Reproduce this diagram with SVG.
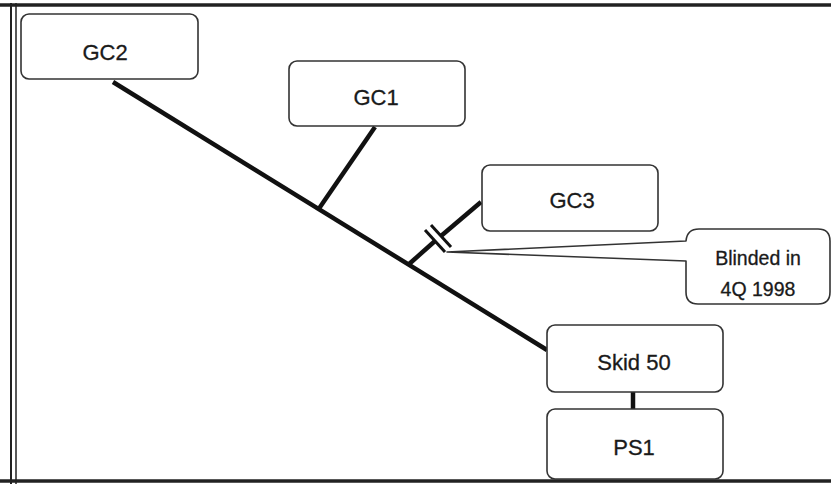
<svg xmlns="http://www.w3.org/2000/svg" width="831" height="485" viewBox="0 0 831 485">
<style>
.box{fill:#fff;stroke:#333;stroke-width:1.6}
.pipe{stroke:#111;stroke-width:4.5;fill:none;stroke-linecap:butt}
.lbl{font-family:"Liberation Sans",Arial,sans-serif;font-size:22px;fill:#1a1a1a;text-anchor:middle;stroke:#1a1a1a;stroke-width:0.3}
.small{font-size:19.5px}
.frame{stroke:#222;fill:none}
</style>
<rect width="831" height="485" fill="#fff"/>
<g id="frame">
<line class="frame" x1="0" y1="5" x2="831" y2="5" stroke-width="3.5"/>
<line class="frame" x1="0" y1="481" x2="831" y2="481" stroke-width="3.5"/>
<line class="frame" x1="11" y1="3" x2="11" y2="484" stroke-width="2"/>
<line class="frame" x1="16" y1="3" x2="16" y2="484" stroke-width="1.5"/>
</g>
<g id="connectors">
<line class="pipe" x1="113" y1="82" x2="547" y2="350"/>
<line class="pipe" x1="375" y1="127" x2="318" y2="210"/>
<line class="pipe" x1="481" y1="202" x2="441" y2="236"/>
<line class="pipe" x1="435" y1="241" x2="408" y2="265"/>
<line stroke="#111" stroke-width="3" x1="431" y1="225" x2="451" y2="247"/>
<line stroke="#111" stroke-width="3" x1="425" y1="230" x2="445" y2="252"/>
<line class="pipe" x1="633" y1="392" x2="633" y2="410"/>
</g>
<g id="GC2">
<rect class="box" x="21" y="14" width="177" height="65" rx="8"/>
<text class="lbl" x="105" y="60">GC2</text>
</g>
<g id="GC1">
<rect class="box" x="289" y="61" width="176" height="65" rx="8"/>
<text class="lbl" x="376" y="105">GC1</text>
</g>
<g id="GC3">
<rect class="box" x="482" y="165" width="176" height="66" rx="8"/>
<text class="lbl" x="572" y="208">GC3</text>
</g>
<g id="Skid50">
<rect class="box" x="547" y="325" width="176" height="67" rx="8"/>
<text class="lbl" x="634" y="370">Skid 50</text>
</g>
<g id="PS1">
<rect class="box" x="547" y="409" width="176" height="70" rx="8"/>
<text class="lbl" x="634" y="455">PS1</text>
</g>
<g id="callout">
<path d="M447,252 L686,241 Q687,229 699,229 L818,229 Q830,229 830,241 L830,292 Q830,304 818,304 L698,304 Q686,304 686,292 L686,261 Z" fill="#fff" stroke="#333" stroke-width="1.6" stroke-linejoin="round"/>
<text class="lbl small" x="758" y="265">Blinded in</text>
<text class="lbl small" x="758" y="296">4Q 1998</text>
</g>
</svg>
